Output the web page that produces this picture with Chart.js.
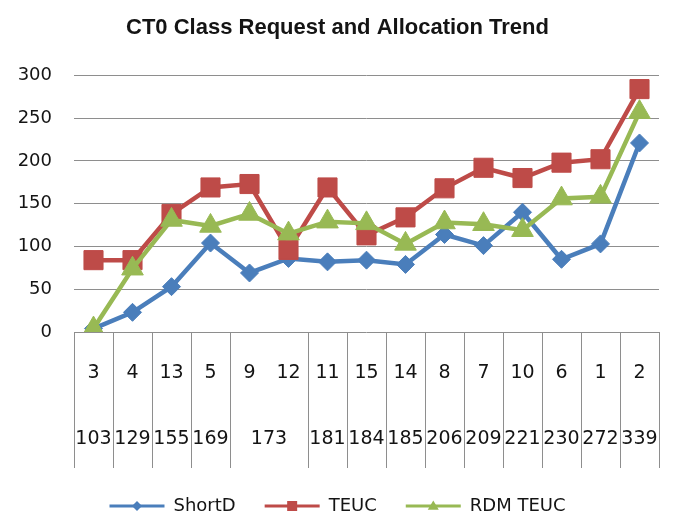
<!DOCTYPE html>
<html>
<head>
<meta charset="utf-8">
<script src="https://cdn.jsdelivr.net/npm/chart.js@4/dist/chart.umd.min.js"></script>
<style>
  html, body { margin: 0; padding: 0; background: #ffffff; }
  #wrap { width: 685px; height: 529px; position: relative; }
</style>
</head>
<body>
<div id="wrap"><canvas id="c" width="685" height="529"></canvas></div>
<script>
// ---- data ----
const categories = ['3','4','13','5','9','12','11','15','14','8','7','10','6','1','2'];
const groupLabels = ['103','129','155','169','173','181','184','185','206','209','221','230','272','339'];
const groupSpans  = [1,1,1,1,2,1,1,1,1,1,1,1,1,1];
const shortD  = [4, 23, 53, 104, 69, 86, 82, 84, 79, 114, 101, 140, 85, 103, 221];
const teuc    = [84, 84, 138, 169, 173, 96, 169, 113, 134, 168, 192, 180, 198, 202, 284];
const rdmTeuc = [4, 74, 131, 124, 138, 115, 129, 127, 103, 128, 126, 119, 156, 158, 257];
const yTicks  = [0, 50, 100, 150, 200, 250, 300];

const BLUE = '#4A7EBB', RED = '#BE4B48', GREEN = '#98B954';
const GRID = '#8e8e8e', TEXT = '#141414';

const catBoxPlugin = {
  id: 'catBox',
  afterDraw(chart) {
    const x = chart.scales.x, ctx = chart.ctx;
    const top = chart.chartArea.bottom;
    const bottom = top + 136;
    const half = (x.getPixelForValue(1) - x.getPixelForValue(0)) / 2;
    ctx.save();
    ctx.strokeStyle = GRID;
    ctx.lineWidth = 1;
    ctx.fillStyle = TEXT;
    ctx.font = '19px "DejaVu Sans"';
    ctx.textAlign = 'center';
    ctx.textBaseline = 'middle';
    const edges = [x.getPixelForValue(0) - half];
    let idx = 0;
    groupSpans.forEach((span, g) => {
      const left = x.getPixelForValue(idx) - half;
      const right = x.getPixelForValue(idx + span - 1) + half;
      ctx.fillText(groupLabels[g], (left + right) / 2, top + 107);
      edges.push(right);
      idx += span;
    });
    edges.forEach(e => {
      const px = Math.round(e) + 0.5;
      ctx.beginPath();
      ctx.moveTo(px, top);
      ctx.lineTo(px, bottom);
      ctx.stroke();
    });
    ctx.restore();
  }
};

const legendMarkerPlugin = {
  id: 'legendMarkers',
  afterDraw(chart) {
    const lg = chart.legend;
    if (!lg || !lg.legendHitBoxes) return;
    const ctx = chart.ctx;
    const bw = lg.options.labels.boxWidth;
    lg.legendHitBoxes.forEach((hb, i) => {
      const ds = chart.data.datasets[i];
      const cx = hb.left + bw / 2;
      const cy = hb.top + hb.height / 2;
      const r = ds.legendRadius;
      ctx.save();
      ctx.fillStyle = ds.borderColor;
      ctx.beginPath();
      if (ds.pointStyle === 'rectRot') {
        ctx.moveTo(cx, cy - r); ctx.lineTo(cx + r, cy); ctx.lineTo(cx, cy + r); ctx.lineTo(cx - r, cy);
      } else if (ds.pointStyle === 'rect') {
        ctx.rect(cx - r, cy - r, 2 * r, 2 * r);
      } else {
        ctx.moveTo(cx, cy - r); ctx.lineTo(cx + r, cy + r * 0.7); ctx.lineTo(cx - r, cy + r * 0.7);
      }
      ctx.closePath();
      ctx.fill();
      ctx.restore();
    });
  }
};

function ds(label, data, color, style, radius, order, legendRadius) {
  return {
    label, data,
    borderColor: color, backgroundColor: color,
    pointBackgroundColor: color, pointBorderColor: color,
    pointStyle: style, pointRadius: radius, pointHoverRadius: radius,
    pointBorderWidth: 1,
    borderWidth: 4.5, tension: 0, order, legendRadius
  };
}

new Chart(document.getElementById('c'), {
  type: 'line',
  data: {
    labels: categories,
    datasets: [
      ds('ShortD', shortD, BLUE, 'rectRot', 9, 3, 5),
      ds('TEUC', teuc, RED, 'rect', 13.5, 2, 5),
      ds('RDM TEUC', rdmTeuc, GREEN, 'triangle', 12.5, 1, 5.5)
    ]
  },
  plugins: [catBoxPlugin, legendMarkerPlugin],
  options: {
    responsive: false,
    animation: false,
    devicePixelRatio: 1,
    layout: { padding: { left: 16, right: 26, top: 0, bottom: 4 } },
    plugins: {
      title: {
        display: true,
        text: 'CT0 Class Request and Allocation Trend',
        color: TEXT,
        font: { family: '"Liberation Sans", Arial, sans-serif', size: 22, weight: 'bold' },
        padding: { top: 15, bottom: 34 }
      },
      legend: {
        position: 'bottom',
        labels: {
          color: TEXT,
          font: { family: '"DejaVu Sans"', size: 18 },
          boxWidth: 55,
          boxHeight: 3,
          padding: 29,
          generateLabels(chart) {
            return chart.data.datasets.map((d, i) => ({
              text: d.label, fillStyle: d.borderColor, strokeStyle: d.borderColor,
              lineWidth: 0, fontColor: TEXT, datasetIndex: i, hidden: false
            }));
          }
        }
      },
      tooltip: { enabled: false }
    },
    scales: {
      y: {
        min: 0, max: 300,
        afterFit(s) { s.width = 58; },
        afterBuildTicks(s) { s.ticks = yTicks.map(v => ({ value: v })); },
        border: { display: false },
        grid: { color: GRID, lineWidth: 1, drawTicks: false },
        ticks: {
          color: TEXT, padding: 22,
          font: { family: '"DejaVu Sans"', size: 18 }
        }
      },
      x: {
        offset: true,
        afterFit(s) { s.height = 136; },
        border: { display: false },
        grid: { display: false, drawTicks: false, offset: true },
        ticks: {
          color: TEXT, padding: 30, maxRotation: 0, autoSkip: false,
          font: { family: '"DejaVu Sans"', size: 19 }
        }
      }
    }
  }
});
</script>
</body>
</html>
